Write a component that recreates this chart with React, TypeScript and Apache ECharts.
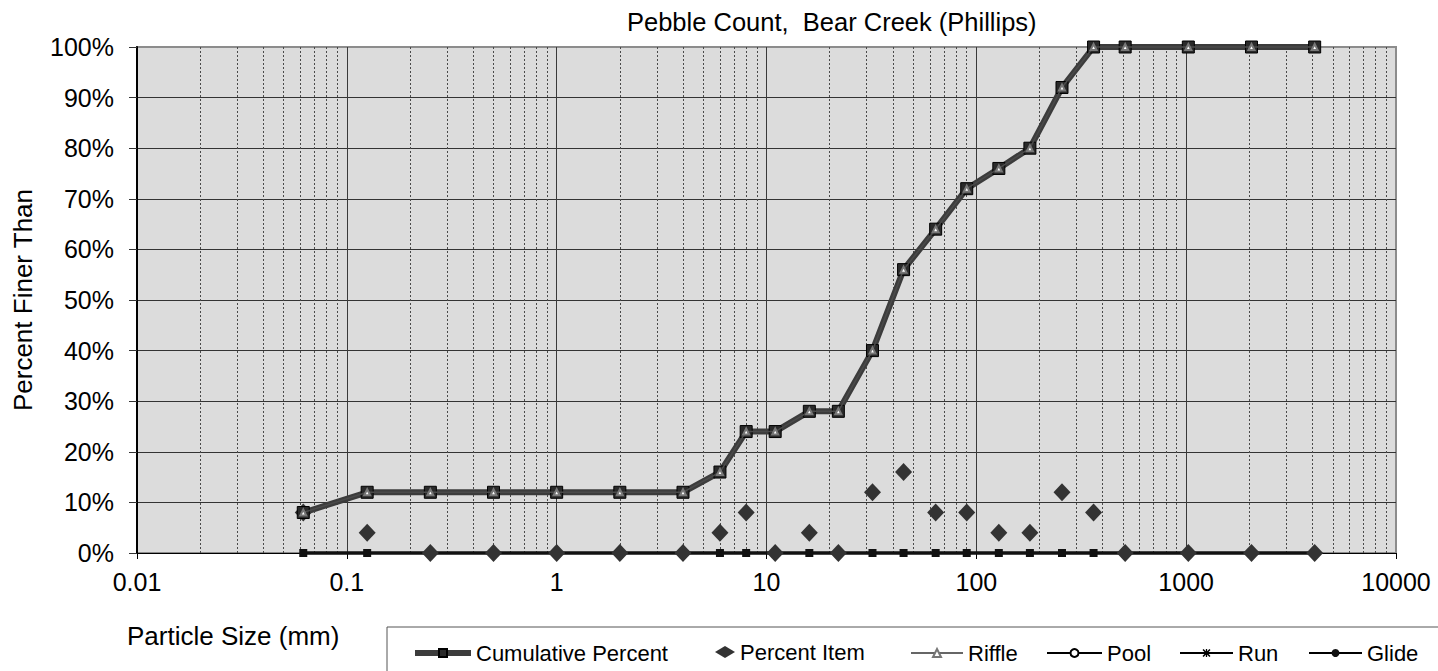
import React, { useEffect, useRef } from 'react';
import * as echarts from 'echarts';

// ---- Data ----
const particleSizes = [0.062, 0.125, 0.25, 0.5, 1, 2, 4, 6, 8, 11, 16, 22, 32, 45, 64, 90, 128, 180, 256, 362, 512, 1024, 2048, 4096];
const cumulativePercent = [8, 12, 12, 12, 12, 12, 12, 16, 24, 24, 28, 28, 40, 56, 64, 72, 76, 80, 92, 100, 100, 100, 100, 100];
const percentItem = [8, 4, 0, 0, 0, 0, 0, 4, 8, 0, 4, 0, 12, 16, 8, 8, 4, 4, 12, 8, 0, 0, 0, 0];
const riffle = [8, 12, 12, 12, 12, 12, 12, 16, 24, 24, 28, 28, 40, 56, 64, 72, 76, 80, 92, 100, 100, 100, 100, 100];
const pool = [0, 0, 0, 0, 0, 0, 0, 0, 0, 0, 0, 0, 0, 0, 0, 0, 0, 0, 0, 0, 0, 0, 0, 0];
const run = [0, 0, 0, 0, 0, 0, 0, 0, 0, 0, 0, 0, 0, 0, 0, 0, 0, 0, 0, 0, 0, 0, 0, 0];
const glide = [0, 0, 0, 0, 0, 0, 0, 0, 0, 0, 0, 0, 0, 0, 0, 0, 0, 0, 0, 0, 0, 0, 0, 0];

const xTickLabels = ['0.01', '0.1', '1', '10', '100', '1000', '10000'];
const decades = [0.01, 0.1, 1, 10, 100, 1000];
const minorMultipliers = [2, 3, 4, 5, 6, 7, 8, 9];

const TITLE = 'Pebble Count,  Bear Creek (Phillips)';
const X_NAME = 'Particle Size (mm)';
const Y_NAME = 'Percent Finer Than';

const FONT = '"Liberation Sans", Arial, Helvetica, sans-serif';

const runSymbol =
  'path://M0,1.4 L1.4,0 L5,3.6 L8.6,0 L10,1.4 L6.4,5 L10,8.6 L8.6,10 L5,6.4 L1.4,10 L0,8.6 L3.6,5 Z M4.2,0 L5.8,0 L5.8,10 L4.2,10 Z';

function pairs(values: number[]) {
  return particleSizes.map((x, i) => [x, values[i]]);
}

export default function App() {
  const ref = useRef<HTMLDivElement>(null);

  useEffect(() => {
    if (!ref.current) return;
    const chart = echarts.init(ref.current, undefined, { renderer: 'svg' });

    const minorLines: { xAxis: number }[] = [];
    decades.forEach((d) => minorMultipliers.forEach((m) => minorLines.push({ xAxis: Number((d * m).toPrecision(6)) })));

    const legendBase = (name: string, left: number, itemWidth: number, extra: any = {}) => ({
      show: true,
      left,
      top: 642,
      padding: 0,
      itemGap: 0,
      itemWidth,
      itemHeight: 10,
      selectedMode: false,
      textStyle: { fontSize: 22, color: '#000', fontFamily: FONT },
      data: [name],
      ...extra,
    });

    const option: any = {
      animation: false,
      backgroundColor: '#ffffff',
      textStyle: { fontFamily: FONT },
      grid: {
        show: true,
        left: 137,
        top: 47,
        width: 1259,
        height: 506,
        backgroundColor: '#dcdcdc',
        borderColor: '#8c8c8c',
        borderWidth: 2,
        containLabel: false,
      },
      xAxis: {
        type: 'log',
        logBase: 10,
        min: 0.01,
        max: 10000,
        axisLine: { show: true, onZero: false, lineStyle: { color: '#000', width: 1 } },
        axisTick: { show: true, length: 6, lineStyle: { color: '#000' } },
        splitLine: {
          show: true,
          lineStyle: { color: ['#3a3a3a', '#3a3a3a', '#3a3a3a', '#3a3a3a', '#3a3a3a', '#3a3a3a', '#8c8c8c'], width: 1 },
        },
        minorTick: { show: false },
        axisLabel: {
          fontSize: 25,
          color: '#000',
          fontFamily: FONT,
          margin: 16,
          formatter: (v: number) => {
            const idx = Math.round(Math.log10(v)) + 2;
            return xTickLabels[idx] ?? String(v);
          },
        },
      },
      yAxis: {
        type: 'value',
        min: 0,
        max: 100,
        interval: 10,
        name: Y_NAME,
        nameLocation: 'middle',
        nameRotate: 90,
        nameGap: 101,
        nameTextStyle: { fontSize: 26, color: '#000', fontFamily: FONT },
        axisLine: { show: true, lineStyle: { color: '#000', width: 2 } },
        axisTick: { show: true, length: 8, lineStyle: { color: '#333' } },
        splitLine: {
          show: true,
          lineStyle: {
            color: ['#000', '#333', '#333', '#333', '#333', '#333', '#333', '#333', '#333', '#333', '#8c8c8c'],
            width: 1,
          },
        },
        axisLabel: {
          fontSize: 25,
          color: '#000',
          fontFamily: FONT,
          margin: 23,
          formatter: '{value}%',
        },
      },
      legend: [
        legendBase('Cumulative Percent', 412, 56, { lineStyle: { width: 6, color: '#3c3c3c' } }),
        legendBase('Percent Item', 715, 20, { itemHeight: 12, top: 641, data: [{ name: 'Percent Item', icon: 'diamond' }] }),
        legendBase('Riffle', 910, 52, { lineStyle: { width: 2, color: '#666' } }),
        legendBase('Pool', 1046, 55, { lineStyle: { width: 2, color: '#000' } }),
        legendBase('Run', 1179, 53, { lineStyle: { width: 2, color: '#000' } }),
        legendBase('Glide', 1308, 53, { lineStyle: { width: 2, color: '#000' } }),
      ],
      graphic: [
        {
          type: 'text',
          left: 627,
          top: 9,
          style: { text: TITLE, font: `25.5px ${FONT}`, fill: '#000' },
        },
        {
          type: 'text',
          left: 127,
          top: 623,
          style: { text: X_NAME, font: `26px ${FONT}`, fill: '#000' },
        },
        {
          type: 'rect',
          shape: { x: 387, y: 627, width: 1060, height: 80 },
          style: { fill: 'none', stroke: '#555', lineWidth: 1 },
          silent: true,
          z: 0,
        },
      ],
      series: [
        {
          name: 'Pool',
          type: 'line',
          z: 2,
          clip: false,
          symbol: 'emptyCircle',
          data: pairs(pool).map((p) => ({ value: p, symbol: 'none' })),
          lineStyle: { color: '#000', width: 2 },
          itemStyle: { color: '#000' },
          markLine: {
            silent: true,
            z: 1,
            symbol: ['none', 'none'],
            label: { show: false },
            lineStyle: { color: '#4a4a4a', type: [2, 2], width: 1 },
            emphasis: { disabled: true },
            data: minorLines,
          },
        },
        {
          name: 'Run',
          type: 'line',
          z: 2,
          clip: false,
          symbol: runSymbol,
          data: pairs(run).map((p) => ({ value: p, symbol: 'none' })),
          lineStyle: { color: '#000', width: 2 },
          itemStyle: { color: '#000' },
        },
        {
          name: 'Glide',
          type: 'line',
          z: 3,
          clip: false,
          symbol: 'circle',
          data: pairs(glide).map((p) => ({ value: p, symbol: 'rect', symbolSize: 8 })),
          lineStyle: { color: '#111', width: 3.5 },
          itemStyle: { color: '#111' },
        },
        {
          name: 'Percent Item',
          type: 'scatter',
          z: 4,
          clip: false,
          symbol: 'diamond',
          symbolSize: [17, 18],
          data: pairs(percentItem),
          itemStyle: { color: '#333', opacity: 1 },
        },
        {
          name: 'Cumulative Percent',
          type: 'line',
          z: 5,
          clip: false,
          symbol: 'rect',
          symbolSize: 12,
          data: pairs(cumulativePercent),
          lineStyle: { color: '#3c3c3c', width: 6 },
          itemStyle: { color: '#2a2a2a', borderColor: '#000', borderWidth: 1 },
        },
        {
          name: 'Riffle',
          type: 'line',
          z: 6,
          clip: false,
          symbol: 'emptyTriangle',
          symbolSize: 6,
          data: pairs(riffle),
          lineStyle: { color: '#4a4a4a', width: 1.5 },
          itemStyle: { color: '#777', borderWidth: 1 },
        },
      ],
    };

    chart.setOption(option);
    return () => chart.dispose();
  }, []);

  return (
    <div
      ref={ref}
      style={{ position: 'fixed', left: 0, top: 0, width: 1438, height: 671, background: '#fff' }}
    />
  );
}
